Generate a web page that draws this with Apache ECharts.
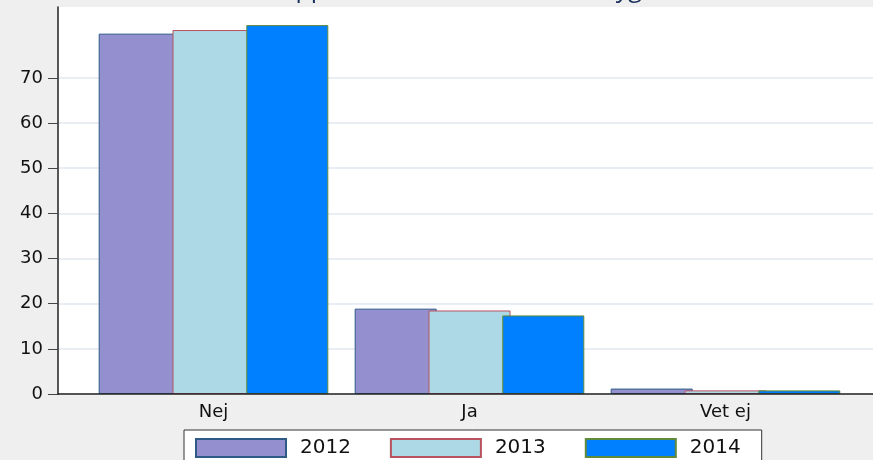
<!DOCTYPE html>
<html>
<head>
<meta charset="utf-8">
<script src="https://cdn.jsdelivr.net/npm/echarts@6/dist/echarts.min.js"></script>
<style>
html,body{margin:0;padding:0;background:#efefef;}
#chart{width:873px;height:460px;}
</style>
</head>
<body>
<div id="chart"></div>
<script>
const titleText = 'Har du upplevt konflikter i din hembygd';
const categories = ['Nej', 'Ja', 'Vet ej'];
const seriesNames = ['2012', '2013', '2014'];
const values2012 = [79.8, 18.9, 1.2];
const values2013 = [80.6, 18.5, 0.8];
const values2014 = [81.7, 17.4, 0.8];
const yTicks = [0, 10, 20, 30, 40, 50, 60, 70];
const yMax = 85.7;

const fills = ['#9490d0', '#add8e6', '#0080ff'];
const borders = ['#2d5b86', '#b8535e', '#5f8a3a'];
const seriesValues = [values2012, values2013, values2014];

const chart = echarts.init(document.getElementById('chart'), null, {renderer: 'canvas'});
const font = 'DejaVu Sans';

const option = {
  backgroundColor: '#efefef',
  animation: false,
  title: {
    text: titleText,
    left: 194,
    top: -23,
    padding: 0,
    textStyle: {fontFamily: 'Open Sans', fontSize: 25, fontWeight: 'normal', color: '#1a2e5c'}
  },
  legend: {
    data: seriesNames,
    left: 184,
    top: 430,
    orient: 'horizontal',
    icon: 'rect',
    itemWidth: 90,
    itemHeight: 18,
    itemGap: 39,
    backgroundColor: '#ffffff',
    borderColor: '#333333',
    borderWidth: 1,
    borderRadius: 0,
    padding: [8, 21, 8, 11],
    textStyle: {fontFamily: font, fontSize: 20, color: '#111', padding: [0, 0, 0, 9]}
  },
  grid: [
    {left: 58, right: 0, top: 7, bottom: 66, show: true, backgroundColor: '#ffffff', borderWidth: 0},
    {left: 85.5, width: 768, top: 7, bottom: 66, show: false}
  ],
  xAxis: [
    {
      gridIndex: 0, type: 'value', min: 0, max: 1, z: 10,
      axisLine: {show: true, lineStyle: {color: '#222', width: 1.5}},
      axisTick: {show: false}, axisLabel: {show: false}, splitLine: {show: false}
    },
    {
      gridIndex: 1, type: 'category', data: categories,
      axisLine: {show: false}, axisTick: {show: false}, splitLine: {show: false},
      axisLabel: {fontFamily: font, fontSize: 18, color: '#111', margin: 9}
    }
  ],
  yAxis: [
    {
      gridIndex: 0, type: 'value', min: 0, max: yMax,
      axisLine: {show: true, lineStyle: {color: '#222', width: 1.5}},
      axisTick: {show: true, length: 10, customValues: yTicks, lineStyle: {color: '#444', width: 1}},
      axisLabel: {customValues: yTicks, fontFamily: font, fontSize: 18, color: '#111', margin: 15},
      splitLine: {show: true, lineStyle: {color: '#e8eef4', width: 2}}
    },
    {gridIndex: 1, type: 'value', min: 0, max: yMax, show: false}
  ],
  series: seriesNames.map((name, i) => ({
    name: name,
    type: 'bar',
    xAxisIndex: 1,
    yAxisIndex: 1,
    data: seriesValues[i],
    barWidth: 82,
    barGap: '-10%',
    itemStyle: {color: fills[i], borderColor: borders[i], borderWidth: 1}
  }))
};
chart.setOption(option);
</script>
</body>
</html>
